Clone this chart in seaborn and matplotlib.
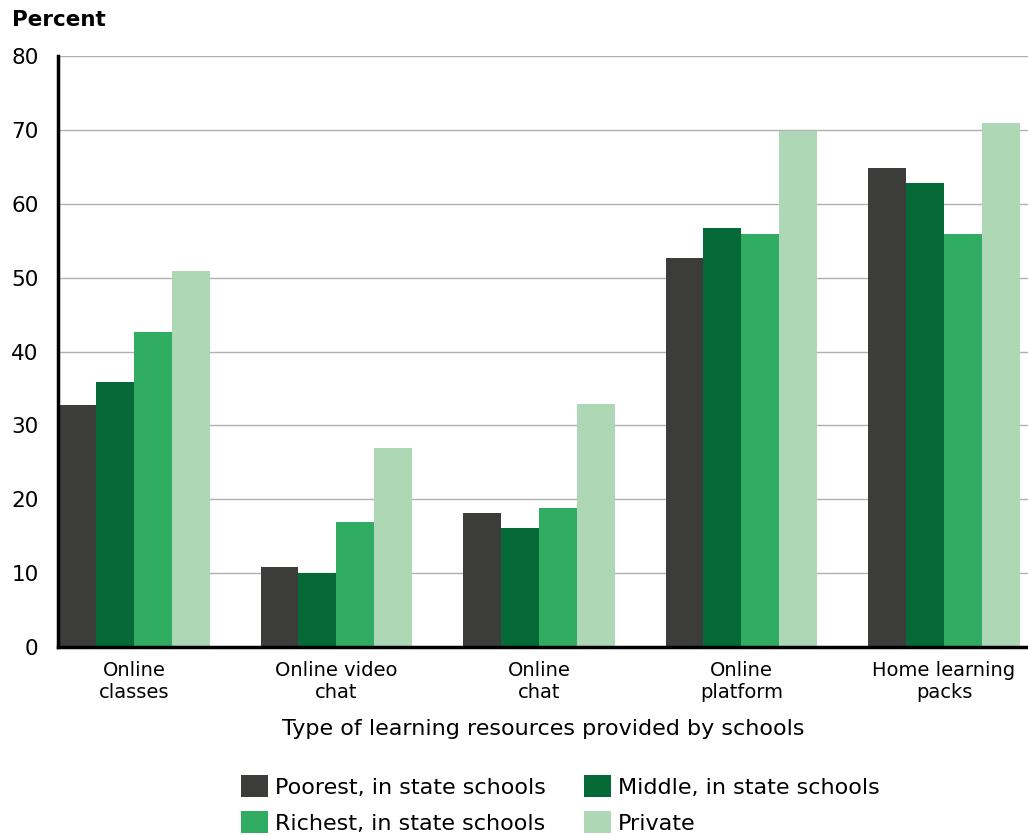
import pandas as pd
import matplotlib.pyplot as plt
import seaborn as sns

# Chart data
categories = ['Online\nclasses', 'Online video\nchat', 'Online\nchat', 'Online\nplatform', 'Home learning\npacks']
groups = ['Poorest, in state schools', 'Middle, in state schools', 'Richest, in state schools', 'Private']
poorest = [32.7, 10.8, 18.1, 52.6, 64.8]
middle = [35.9, 10.0, 16.1, 56.7, 62.8]
richest = [42.6, 16.9, 18.8, 55.9, 55.9]
private = [50.9, 26.9, 32.9, 69.8, 70.9]
colors = ['#3c3c3b', '#056a38', '#31ac63', '#aed8b5']

# long format for seaborn
rows = []
for g, vals in zip(groups, [poorest, middle, richest, private]):
    for c, v in zip(categories, vals):
        rows.append({'Resource': c, 'Group': g, 'Percent': v})
df = pd.DataFrame(rows)

sns.set_style("white")
plt.rcParams['font.family'] = ['DejaVu Sans']
plt.rcParams['text.color'] = 'black'
plt.rcParams['axes.labelcolor'] = 'black'

fig = plt.figure(figsize=(10.28, 8.36), dpi=100)
ax = fig.add_axes([58 / 1028, 1 - 647 / 836, 1 - 58 / 1028, (647 - 56) / 836])

sns.barplot(data=df, x='Resource', y='Percent', hue='Group', order=categories,
            hue_order=groups, palette=colors, width=0.75, linewidth=0,
            saturation=1, ax=ax, legend=True)

ax.set_ylim(0, 80)
ax.set_xlim(-0.375, 4.415)
ax.set_yticks(range(0, 81, 10))
ax.yaxis.grid(True, color='#b0b0b0', linewidth=1)
ax.set_axisbelow(True)
for s in ['top', 'right']:
    ax.spines[s].set_visible(False)
for s in ['left', 'bottom']:
    ax.spines[s].set_color('black')
    ax.spines[s].set_linewidth(2.5)
ax.tick_params(axis='both', length=0, colors='black')
ax.tick_params(axis='y', labelsize=15.5, pad=14)
ax.tick_params(axis='x', labelsize=14, pad=10)
ax.set_ylabel('')
ax.set_xlabel('Type of learning resources provided by schools', fontsize=16, labelpad=12)

fig.text(12 / 1028, 1 - 20 / 836, 'Percent', fontsize=15.5, fontweight='bold', va='center', ha='left')

handles, labels = ax.get_legend_handles_labels()
ax.get_legend().remove()
# reorder so rows read Poorest, Middle / Richest, Private
idx = [0, 2, 1, 3]
fig.legend([handles[i] for i in idx], [labels[i] for i in idx], ncol=2,
           loc='lower center', bbox_to_anchor=(0.545, -0.021),
           frameon=False, fontsize=16, handlelength=1.25, handleheight=1.1,
           columnspacing=1.7, labelspacing=0.62, handletextpad=0.3)

plt.savefig('out.png', dpi=100)
